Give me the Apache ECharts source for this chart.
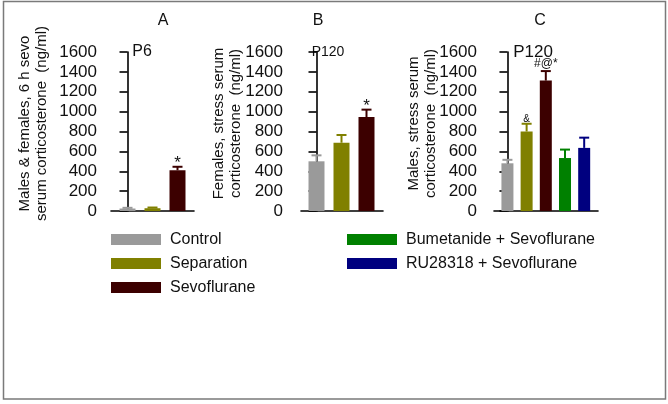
<!DOCTYPE html>
<html><head><meta charset="utf-8">
<script src="https://cdn.jsdelivr.net/npm/echarts@6/dist/echarts.min.js"></script>
<style>html,body{margin:0;padding:0;background:#fff}#c{width:668px;height:404px}</style>
</head><body><div id="c"></div>
<script>
// ---- data ----
const groups = ['Control', 'Separation', 'Sevoflurane', 'Bumetanide + Sevoflurane', 'RU28318 + Sevoflurane'];
const groupColors = ['#9a9a9a', '#808000', '#3c0000', '#008000', '#00007f'];
const yTicks = [0, 200, 400, 600, 800, 1000, 1200, 1400, 1600];
const panelLetters = ['A', 'B', 'C'];
const panelAges = ['P6', 'P120', 'P120'];
const yTitles = [
  'Males & females, 6 h sevo\nserum corticosterone  (ng/ml)',
  'Females, stress serum\ncorticosterone  (ng/ml)',
  'Males, stress serum\ncorticosterone  (ng/ml)'
];
const aGroups = [0, 1, 2];
const aMeans = [25, 28, 410];
const aUpper = [32, 35, 445];
const aMarks = ['', '', '*'];
const bGroups = [0, 1, 2];
const bMeans = [500, 687, 945];
const bUpper = [560, 765, 1020];
const bMarks = ['', '', '*'];
const cGroups = [0, 1, 2, 3, 4];
const cMeans = [480, 800, 1312, 533, 635];
const cUpper = [515, 878, 1408, 618, 738];
const cMarks = ['', '&', '#@*', '', ''];

// ---- styles / layout ----
const FONT = 'Liberation Sans, Arial, sans-serif';
const panels = [
  { g: aGroups, m: aMeans, u: aUpper, k: aMarks, left: 111, width: 83, xmin: -0.66, xmax: 2.66, barW: 16, cap: 10, lm: 14, nameGap: 61, letterX: 163, ageX: 142, ageSize: 16 },
  { g: bGroups, m: bMeans, u: bUpper, k: bMarks, left: 301, width: 82, xmin: -0.62, xmax: 2.66, barW: 16, cap: 10, lm: 18, nameGap: 57, letterX: 318, ageX: 328, ageSize: 14 },
  { g: cGroups, m: cMeans, u: cUpper, k: cMarks, left: 494, width: 104, xmin: -0.7, xmax: 4.72, barW: 12, cap: 10, lm: 17, nameGap: 55, letterX: 540, ageX: 533, ageSize: 17 }
];
const markStyle = { '*': { size: 17, dy: -3 }, '&': { size: 10, dy: -4 }, '#@*': { size: 12, dy: -7 } };

const grid = [], xAxis = [], yAxis = [], series = [], graphic = [];
panels.forEach((p, pi) => {
  grid.push({ left: p.left, width: p.width, top: 52, height: 159, containLabel: false });
  xAxis.push({
    type: 'value', gridIndex: pi, min: p.xmin, max: p.xmax,
    axisLine: { show: true, onZero: false, lineStyle: { color: '#000', width: 1.6 } },
    axisTick: { show: false }, axisLabel: { show: false }, splitLine: { show: false }
  });
  yAxis.push({
    type: 'value', gridIndex: pi, min: yTicks[0], max: yTicks[yTicks.length - 1], interval: yTicks[1] - yTicks[0],
    name: yTitles[pi], nameLocation: 'middle', nameRotate: 90, nameGap: p.nameGap, nameMoveOverlap: false,
    nameTextStyle: { fontSize: 15, lineHeight: 17, color: '#111', fontFamily: FONT, padding: [0, 0, 0, 16] },
    axisLine: { show: true, lineStyle: { color: '#000', width: 1.6 } },
    axisTick: { show: true, length: 8, lineStyle: { color: '#000', width: 1.6 } },
    axisLabel: { fontSize: 17, color: '#111', fontFamily: FONT, margin: p.lm, formatter: v => String(v) },
    splitLine: { show: false }
  });
  p.g.forEach((gi, i) => {
    series.push({
      type: 'bar', name: groups[gi], xAxisIndex: pi, yAxisIndex: pi,
      barWidth: p.barW, barGap: '-100%',
      itemStyle: { color: groupColors[gi] },
      data: [[i, p.m[i]]], z: 2
    });
  });
  series.push({
    type: 'custom', name: 'err' + pi, xAxisIndex: pi, yAxisIndex: pi, z: 3, silent: true,
    data: p.m.map((v, i) => [i, v, p.u[i]]),
    renderItem: (params, api) => {
      const i = params.dataIndex;
      const x = api.value(0);
      const pm = api.coord([x, api.value(1)]);
      const pu = api.coord([x, api.value(2)]);
      const col = groupColors[p.g[i]];
      const ch = [
        { type: 'line', shape: { x1: pm[0], y1: pm[1], x2: pu[0], y2: pu[1] }, style: { stroke: col, lineWidth: 2 } },
        { type: 'line', shape: { x1: pu[0] - p.cap / 2, y1: pu[1], x2: pu[0] + p.cap / 2, y2: pu[1] }, style: { stroke: col, lineWidth: 2 } }
      ];
      const mk = p.k[i];
      if (mk) {
        const ms = markStyle[mk];
        ch.push({ type: 'text', x: pu[0], y: pu[1] + ms.dy,
          style: { text: mk, font: ms.size + 'px ' + FONT, fill: '#111', align: 'center', verticalAlign: 'middle' } });
      }
      return { type: 'group', children: ch };
    }
  });
  graphic.push({ type: 'text', x: p.letterX, y: 20.5, style: { text: panelLetters[pi], font: '16px ' + FONT, fill: '#111', align: 'center', verticalAlign: 'middle' } });
  graphic.push({ type: 'text', x: p.ageX, y: 52, style: { text: panelAges[pi], font: p.ageSize + 'px ' + FONT, fill: '#111', align: 'center', verticalAlign: 'middle' } });
});
graphic.push({ type: 'rect', shape: { x: 3.5, y: 1.5, width: 662, height: 397.5 }, style: { fill: 'none', stroke: '#7a7a7a', lineWidth: 1.5 }, silent: true });

const legendCommon = {
  orient: 'vertical', icon: 'rect', itemWidth: 50, itemHeight: 11, itemGap: 8, padding: 0,
  selectedMode: false,
  textStyle: { fontSize: 16, lineHeight: 16, color: '#111', fontFamily: FONT, padding: [0, 0, 0, 4] }
};
const chart = echarts.init(document.getElementById('c'), null, { renderer: 'canvas' });
chart.setOption({
  animation: false,
  backgroundColor: '#fff',
  textStyle: { fontFamily: FONT },
  grid, xAxis, yAxis, series, graphic,
  legend: [
    Object.assign({}, legendCommon, { left: 111, top: 231.5, data: groups.slice(0, 3) }),
    Object.assign({}, legendCommon, { left: 347, top: 231.5, data: groups.slice(3) })
  ]
});
</script></body></html>
